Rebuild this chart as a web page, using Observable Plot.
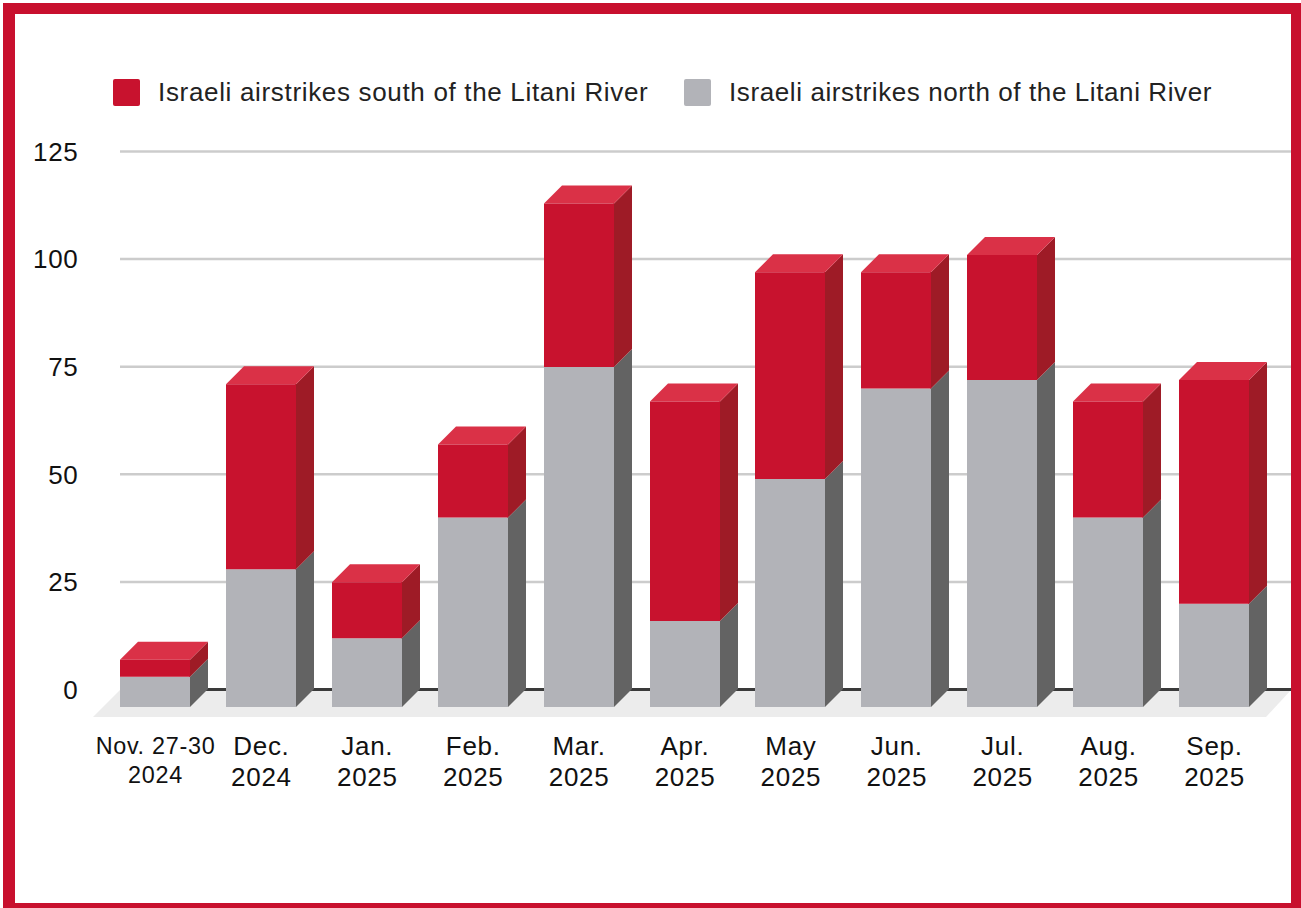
<!DOCTYPE html>
<html>
<head>
<meta charset="utf-8">
<title>Israeli airstrikes in Lebanon by month</title>
<script src="https://cdn.jsdelivr.net/npm/d3@7"></script>
<script src="https://cdn.jsdelivr.net/npm/@observablehq/plot@0.6"></script>
<style>
  html, body { margin: 0; padding: 0; background: #fff; overflow: hidden; }
  #page { position: relative; width: 1301px; height: 908px; font-family: "Liberation Sans", Arial, sans-serif; color: #111; }
  #frame { position: absolute; left: 3px; top: 3px; right: -2px; bottom: 0; box-sizing: border-box;
           border: solid #c8102e; border-width: 11px 12px 5px 12px; pointer-events: none; }
  #legend { position: absolute; left: 0; top: 0; width: 1301px; height: 120px; font-size: 26px; color: #222; }
  #legend .item { position: absolute; top: 79px; height: 27px; display: flex; align-items: center; white-space: nowrap; }
  #legend .swatch { width: 27px; height: 27px; border-radius: 2px; margin-right: 18px; flex: none; }
  #chart { position: absolute; left: 0; top: 120px; }
  #chart svg { display: block; }
  #chart svg text { letter-spacing: 0.7px; }
</style>
</head>
<body>
<div id="page">
  <div id="legend"></div>
  <div id="chart"></div>
  <div id="frame"></div>
</div>
<script>
const months = ["Nov. 27-30\n2024", "Dec.\n2024", "Jan.\n2025", "Feb.\n2025", "Mar.\n2025", "Apr.\n2025",
                "May\n2025", "Jun.\n2025", "Jul.\n2025", "Aug.\n2025", "Sep.\n2025"];
const northStrikes = [7, 32, 16, 44, 79, 20, 53, 74, 76, 44, 24];
const southStrikes = [4, 43, 13, 17, 38, 51, 48, 27, 29, 27, 52];
const yTicks = [0, 25, 50, 75, 100, 125];
const southLabel = "Israeli airstrikes south of the Litani River";
const northLabel = "Israeli airstrikes north of the Litani River";

const palette = {
  south: {front: "#c8122e", side: "#9e1b26", top: "#da3147"},
  north: {front: "#b2b3b8", side: "#636363", top: "#b2b3b8"}
};

// Each bar segment runs from its lower to its upper stacked value.
const segments = [
  ...months.map((month, i) => ({month, lo: 0, hi: northStrikes[i], kind: "north"})),
  ...months.map((month, i) => ({month, lo: northStrikes[i], hi: northStrikes[i] + southStrikes[i], kind: "south"}))
];

const depth = 18;     // extrusion of the boxes, up and to the right
const faceWidth = 70; // front face width
const slotStep = 105.9;

// Draws one polygon per datum, built from the x and y scales.
function polygons(data, points, fill) {
  return Plot.barY(data, {
    x: "month", y1: "lo", y2: "hi",
    render(index, {x, y}) {
      const g = d3.create("svg:g");
      for (const i of index) {
        const d = data[i];
        const pts = points(Math.round(x(d.month)), y(d.lo), y(d.hi));
        g.append("path").attr("d", "M" + pts.join("L") + "Z").attr("fill", fill(d));
      }
      return g.node();
    }
  });
}

// The grey floor under the boxes, sitting just below the zero line.
function floor(index, {y}, values, {width, marginRight, marginLeft}) {
  const y0 = y(0), r = width - marginRight;
  return d3.create("svg:path")
    .attr("d", `M${marginLeft - 27},${y0 + 28}L${marginLeft},${y0 + 1}L${r},${y0 + 1}L${r - 25},${y0 + 28}Z`)
    .attr("fill", "#ececec").node();
}

const axisFont = {fontSize: 26, fontFamily: "Liberation Sans, Arial, sans-serif", fill: "#111"};

const plot = Plot.plot({
  width: 1301,
  height: 788,
  marginTop: 31,
  marginBottom: 219,
  marginLeft: 120,
  marginRight: 10,
  x: {type: "band", domain: months, range: [120, 1267], round: false,
      paddingInner: 1 - (faceWidth + depth) / slotStep, paddingOuter: 0, align: 0, axis: null},
  y: {domain: [0, 125], axis: null},
  marks: [
    Plot.ruleY(yTicks.filter(t => t > 0), {stroke: "#cccccc", strokeWidth: 2.5}),
    floor,
    Plot.ruleY([0], {stroke: "#3a3a3a", strokeWidth: 2.8}),
    Plot.axisY(yTicks, {tickSize: 0, tickPadding: 42, dy: 1, tickFormat: d => d, label: null, ...axisFont}),
    Plot.axisX(months.slice(1), {
      anchor: "bottom", tickSize: 0, tickPadding: 44, dx: -9, label: null, lineHeight: 1.19,
      lineAnchor: "top", ...axisFont
    }),
    Plot.axisX(months.slice(0, 1), {
      anchor: "bottom", tickSize: 0, tickPadding: 45, dx: -9, label: null, lineHeight: 1.2,
      lineAnchor: "top", ...axisFont, fontSize: 23.4
    }),
    // right-hand side faces, tucked slightly under the fronts so no seam shows
    polygons(segments,
      (x, y0, y1) => [[x + faceWidth - 1, y0 + depth], [x + faceWidth, y0 + depth], [x + faceWidth + depth, y0], [x + faceWidth + depth, y1], [x + faceWidth, y1 + depth], [x + faceWidth - 1, y1 + depth]],
      d => palette[d.kind].side),
    // top faces, only on the upper segment of each stack
    polygons(segments.filter(d => d.kind === "south"),
      (x, y0, y1) => [[x, y1 + depth], [x + depth, y1], [x + faceWidth + depth, y1], [x + faceWidth, y1 + depth]],
      d => palette[d.kind].top),
    // front faces
    polygons(segments,
      (x, y0, y1) => [[x, y0 + depth], [x + faceWidth, y0 + depth], [x + faceWidth, y1 + depth], [x, y1 + depth]],
      d => palette[d.kind].front)
  ]
});
document.getElementById("chart").append(plot);

// Legend above the plot
const legend = d3.select("#legend");
[[southLabel, palette.south.front, 113, 0.67], [northLabel, palette.north.front, 684, 0.6]].forEach(([text, color, left, spacing]) => {
  const item = legend.append("div").attr("class", "item").style("left", left + "px");
  item.append("div").attr("class", "swatch").style("background", color);
  item.append("span").style("letter-spacing", spacing + "px").text(text);
});
</script>
</body>
</html>
